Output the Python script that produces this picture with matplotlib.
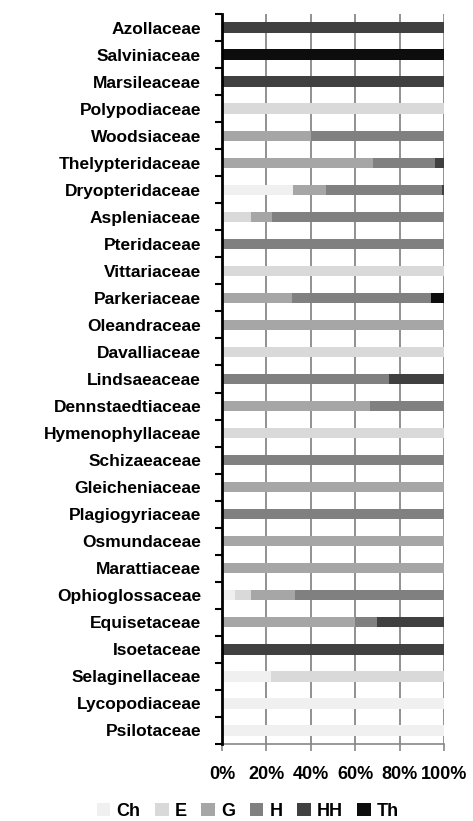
import matplotlib.pyplot as plt
import numpy as np

plt.rcParams['font.family'] = ['Liberation Sans', 'DejaVu Sans']
plt.rcParams['font.weight'] = 'bold'

# families, top to bottom as shown
families = ['Azollaceae', 'Salviniaceae', 'Marsileaceae', 'Polypodiaceae', 'Woodsiaceae',
            'Thelypteridaceae', 'Dryopteridaceae', 'Aspleniaceae', 'Pteridaceae',
            'Vittariaceae', 'Parkeriaceae', 'Oleandraceae', 'Davalliaceae', 'Lindsaeaceae',
            'Dennstaedtiaceae', 'Hymenophyllaceae', 'Schizaeaceae', 'Gleicheniaceae',
            'Plagiogyriaceae', 'Osmundaceae', 'Marattiaceae', 'Ophioglossaceae',
            'Equisetaceae', 'Isoetaceae', 'Selaginellaceae', 'Lycopodiaceae', 'Psilotaceae']

# life-form shares (%) per family, same order
Ch = [0, 0, 0, 0, 0, 0, 32, 0, 0, 0, 0, 0, 0, 0, 0, 0, 0, 0, 0, 0, 0, 6, 0, 0, 22, 100, 100]
E  = [0, 0, 0, 100, 0, 0, 0, 13, 0, 100, 0, 0, 100, 0, 0, 100, 0, 0, 0, 0, 0, 7, 0, 0, 78, 0, 0]
G  = [0, 0, 0, 0, 40, 68, 15, 9.5, 0, 0, 31.5, 100, 0, 0, 66.5, 0, 0, 100, 0, 100, 100, 20, 60, 0, 0, 0, 0]
H  = [0, 0, 0, 0, 60, 28, 52, 77.5, 100, 0, 62.5, 0, 0, 75, 33.5, 0, 100, 0, 100, 0, 0, 67, 10, 0, 0, 0, 0]
HH = [100, 0, 100, 0, 0, 4, 1, 0, 0, 0, 0, 0, 0, 25, 0, 0, 0, 0, 0, 0, 0, 0, 30, 100, 0, 0, 0]
Th = [0, 100, 0, 0, 0, 0, 0, 0, 0, 0, 6, 0, 0, 0, 0, 0, 0, 0, 0, 0, 0, 0, 0, 0, 0, 0, 0]

series = {'Ch': Ch, 'E': E, 'G': G, 'H': H, 'HH': HH, 'Th': Th}
colors = {'Ch': '#f0f0f0', 'E': '#d9d9d9', 'G': '#a6a6a6',
          'H': '#808080', 'HH': '#404040', 'Th': '#0d0d0d'}

fig = plt.figure(figsize=(4.73, 8.21), dpi=100)
ax = fig.add_axes([222/473, 1 - 744/821, 222/473, 730/821])

y = np.arange(len(families))
left = np.zeros(len(families))
for name, vals in series.items():
    vals = np.array(vals, dtype=float)
    ax.barh(y, vals, left=left, height=0.38, color=colors[name], label=name, zorder=3)
    left += vals

ax.set_ylim(len(families) - 0.5, -0.5)
ax.set_xlim(0, 100)

# category labels at centres, tick marks at the boundaries
ax.set_yticks(y)
ax.set_yticklabels(families, fontsize=12.5, fontweight='bold')
ax.tick_params(axis='y', which='major', length=0, pad=15)
ax.set_yticks(np.arange(len(families) + 1) - 0.5, minor=True)
ax.tick_params(axis='y', which='minor', length=5, width=1.5, color='black')

ax.set_xticks([0, 20, 40, 60, 80, 100])
ax.set_xticklabels(['0%', '20%', '40%', '60%', '80%', '100%'], fontsize=13, fontweight='bold')
ax.tick_params(axis='x', length=5, width=1.2, color='#888888', pad=11)

ax.grid(axis='x', color='#888888', linewidth=1.3, zorder=0)
ax.spines['top'].set_visible(False)
ax.spines['right'].set_visible(False)
ax.spines['left'].set_linewidth(2)
ax.spines['left'].set_color('black')
ax.spines['left'].set_zorder(5)
ax.spines['bottom'].set_color('#888888')
ax.spines['bottom'].set_linewidth(1.2)

fig.legend(loc='center', bbox_to_anchor=(248/473, 1 - 811/821), ncol=6, frameon=False,
           handlelength=0.75, handleheight=0.75, handletextpad=0.35, columnspacing=0.8,
           prop={'size': 13, 'weight': 'bold'})

fig.savefig('out.png', dpi=100)
